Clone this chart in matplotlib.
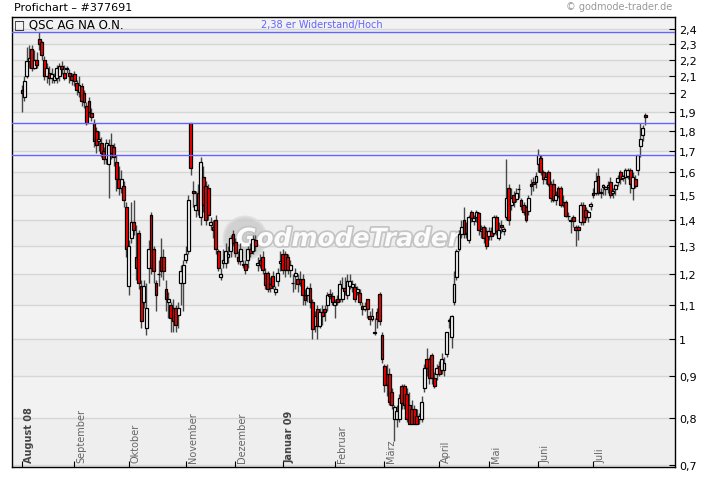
import numpy as np
import pandas as pd
import matplotlib
matplotlib.use('Agg')
import matplotlib.pyplot as plt
from matplotlib import patheffects
from matplotlib.patches import Ellipse
from matplotlib.ticker import NullLocator
from matplotlib.transforms import blended_transform_factory, offset_copy

# daily candles QSC AG, Aug 2008 - Jul 2009
opens = [
    2.02, 1.98, 2.10, 2.19, 2.27, 2.15, 2.20, 2.33, 2.31, 2.20,
    2.10, 2.12, 2.09, 2.08, 2.09, 2.10, 2.16, 2.12, 2.15, 2.12,
    2.10, 2.11, 2.06, 2.01, 2.04, 2.00, 1.93, 1.96, 1.89, 1.84,
    1.80, 1.75, 1.74, 1.70, 1.66, 1.64, 1.73, 1.72, 1.65, 1.57,
    1.53, 1.54, 1.45, 1.16, 1.33, 1.39, 1.26, 1.35, 1.16, 1.11,
    1.03, 1.22, 1.42, 1.29, 1.17, 1.20, 1.26, 1.26, 1.15, 1.11,
    1.10, 1.09, 1.09, 1.07, 1.17, 1.17, 1.25, 1.28, 1.84, 1.52,
    1.44, 1.51, 1.41, 1.58, 1.54, 1.53, 1.38, 1.37, 1.40, 1.28,
    1.19, 1.24, 1.24, 1.26, 1.28,
    1.345, 1.315, 1.26, 1.245, 1.23, 1.235, 1.25, 1.29, 1.28, 1.32,
    1.23, 1.25, 1.26, 1.205, 1.205, 1.168, 1.195, 1.14, 1.178, 1.238,
    1.27, 1.27, 1.26, 1.215, 1.17, 1.195, 1.185, 1.185, 1.185, 1.13,
    1.13, 1.155, 1.11, 1.037, 1.088, 1.037, 1.078, 1.088, 1.10, 1.135,
    1.128, 1.10, 1.12, 1.12, 1.12, 1.155, 1.13, 1.162, 1.157, 1.157,
    1.14, 1.137, 1.098, 1.088, 1.12, 1.067, 1.057, 1.016, 1.078, 1.135,
    1.01, 0.925, 0.905, 0.905, 0.86, 0.797, 0.797, 0.797, 0.875, 0.875,
    0.855, 0.83, 0.82, 0.82, 0.805, 0.797, 0.797, 0.87, 0.945, 0.945,
    0.955, 0.896, 0.905, 0.927, 0.915, 0.915, 0.958, 1.05,
    1.005, 1.11, 1.19, 1.289, 1.345, 1.40, 1.345, 1.32, 1.43, 1.395,
    1.41, 1.425, 1.355, 1.37, 1.355, 1.335, 1.355, 1.35, 1.41, 1.33,
    1.38, 1.355, 1.41, 1.53, 1.46, 1.50, 1.484, 1.525, 1.478, 1.46,
    1.45, 1.435, 1.55, 1.555, 1.557, 1.64, 1.665, 1.60, 1.57, 1.60,
    1.55, 1.55, 1.48, 1.53, 1.53, 1.47, 1.47, 1.414, 1.395, 1.41,
    1.37, 1.37, 1.39, 1.46, 1.44, 1.41, 1.455, 1.51, 1.51, 1.585,
    1.51, 1.535, 1.525, 1.535, 1.557, 1.51, 1.525, 1.557, 1.60, 1.575,
    1.58, 1.585, 1.61, 1.53, 1.57, 1.61, 1.725, 1.78, 1.88,
]
highs = [
    2.05, 2.10, 2.28, 2.29, 2.29, 2.26, 2.25, 2.38, 2.32, 2.22,
    2.18, 2.16, 2.15, 2.12, 2.17, 2.18, 2.19, 2.17, 2.16, 2.14,
    2.12, 2.13, 2.08, 2.10, 2.06, 2.02, 1.95, 1.98, 1.92, 1.86,
    1.82, 1.80, 1.77, 1.72, 1.76, 1.76, 1.79, 1.74, 1.68, 1.63,
    1.61, 1.56, 1.47, 1.32, 1.47, 1.48, 1.38, 1.36, 1.18, 1.18,
    1.17, 1.32, 1.43, 1.30, 1.18, 1.25, 1.33, 1.29, 1.18, 1.14,
    1.11, 1.12, 1.10, 1.11, 1.23, 1.25, 1.30, 1.50, 1.84, 1.56,
    1.52, 1.55, 1.67, 1.63, 1.56, 1.55, 1.41, 1.40, 1.42, 1.29,
    1.22, 1.29, 1.31, 1.30, 1.34,
    1.36, 1.33, 1.28, 1.31, 1.25, 1.25, 1.30, 1.31, 1.34, 1.34,
    1.26, 1.27, 1.28, 1.22, 1.21, 1.19, 1.21, 1.16, 1.22, 1.28,
    1.29, 1.28, 1.27, 1.25, 1.20, 1.22, 1.20, 1.21, 1.20, 1.15,
    1.16, 1.17, 1.12, 1.08, 1.10, 1.09, 1.10, 1.10, 1.14, 1.15,
    1.14, 1.12, 1.13, 1.18, 1.19, 1.19, 1.20, 1.20, 1.18, 1.17,
    1.16, 1.15, 1.11, 1.11, 1.12, 1.08, 1.09, 1.06, 1.09, 1.14,
    1.02, 0.93, 0.93, 0.92, 0.87, 0.83, 0.83, 0.855, 0.88, 0.88,
    0.87, 0.86, 0.84, 0.83, 0.82, 0.81, 0.85, 0.93, 0.975, 0.95,
    0.96, 0.91, 0.93, 0.94, 0.96, 0.95, 1.02, 1.06,
    1.07, 1.21, 1.29, 1.36, 1.40, 1.45, 1.39, 1.42, 1.44, 1.42,
    1.44, 1.43, 1.38, 1.38, 1.37, 1.37, 1.37, 1.42, 1.42, 1.39,
    1.40, 1.37, 1.66, 1.55, 1.53, 1.52, 1.53, 1.55, 1.49, 1.47,
    1.46, 1.50, 1.57, 1.58, 1.60, 1.71, 1.68, 1.61, 1.60, 1.61,
    1.56, 1.57, 1.52, 1.54, 1.54, 1.50, 1.48, 1.43, 1.41, 1.42,
    1.38, 1.38, 1.47, 1.47, 1.45, 1.44, 1.47, 1.53, 1.60, 1.62,
    1.53, 1.55, 1.54, 1.56, 1.58, 1.53, 1.55, 1.59, 1.61, 1.59,
    1.62, 1.62, 1.62, 1.60, 1.59, 1.68, 1.84, 1.83, 1.89,
]
lows = [
    1.90, 1.96, 2.09, 2.15, 2.13, 2.14, 2.15, 2.26, 2.20, 2.08,
    2.06, 2.05, 2.06, 2.06, 2.06, 2.07, 2.11, 2.08, 2.12, 2.06,
    2.05, 2.04, 1.99, 1.98, 1.93, 1.92, 1.83, 1.87, 1.85, 1.72,
    1.69, 1.70, 1.67, 1.64, 1.64, 1.49, 1.66, 1.63, 1.52, 1.50,
    1.51, 1.45, 1.26, 1.13, 1.31, 1.34, 1.18, 1.15, 1.03, 1.09,
    1.01, 1.17, 1.20, 1.17, 1.08, 1.16, 1.19, 1.18, 1.08, 1.06,
    1.02, 1.02, 1.02, 1.03, 1.10, 1.08, 1.24, 1.27, 1.59, 1.45,
    1.41, 1.42, 1.38, 1.43, 1.38, 1.40, 1.36, 1.33, 1.27, 1.21,
    1.18, 1.22, 1.22, 1.24, 1.26,
    1.30, 1.26, 1.235, 1.23, 1.22, 1.20, 1.22, 1.26, 1.27, 1.28,
    1.21, 1.22, 1.20, 1.15, 1.14, 1.14, 1.15, 1.13, 1.16, 1.21,
    1.20, 1.19, 1.20, 1.19, 1.14, 1.15, 1.14, 1.16, 1.10, 1.10,
    1.11, 1.09, 1.00, 1.02, 1.00, 1.03, 1.04, 1.05, 1.08, 1.12,
    1.10, 1.06, 1.10, 1.11, 1.11, 1.13, 1.12, 1.15, 1.14, 1.11,
    1.13, 1.10, 1.07, 1.08, 1.06, 1.04, 1.05, 1.01, 1.03, 1.04,
    0.935, 0.86, 0.85, 0.83, 0.82, 0.75, 0.78, 0.79, 0.82, 0.82,
    0.79, 0.785, 0.785, 0.785, 0.785, 0.786, 0.79, 0.86, 0.90, 0.88,
    0.88, 0.87, 0.89, 0.90, 0.905, 0.90, 0.95, 1.03,
    0.975, 1.10, 1.18, 1.28, 1.33, 1.33, 1.33, 1.31, 1.39, 1.38,
    1.39, 1.34, 1.33, 1.31, 1.29, 1.32, 1.32, 1.34, 1.34, 1.32,
    1.35, 1.34, 1.40, 1.38, 1.44, 1.45, 1.47, 1.49, 1.44, 1.42,
    1.39, 1.42, 1.50, 1.52, 1.53, 1.60, 1.59, 1.55, 1.55, 1.54,
    1.47, 1.47, 1.46, 1.49, 1.45, 1.45, 1.41, 1.40, 1.35, 1.37,
    1.30, 1.32, 1.38, 1.38, 1.40, 1.39, 1.44, 1.49, 1.50, 1.50,
    1.49, 1.50, 1.50, 1.51, 1.49, 1.49, 1.50, 1.54, 1.55, 1.56,
    1.55, 1.57, 1.51, 1.48, 1.53, 1.59, 1.67, 1.75, 1.83,
]
closes = [
    2.00, 2.07, 2.19, 2.21, 2.15, 2.20, 2.17, 2.30, 2.23, 2.10,
    2.15, 2.09, 2.11, 2.10, 2.15, 2.16, 2.14, 2.09, 2.14, 2.10,
    2.08, 2.07, 2.02, 2.05, 1.96, 1.95, 1.84, 1.90, 1.87, 1.75,
    1.73, 1.76, 1.69, 1.66, 1.74, 1.73, 1.69, 1.67, 1.57, 1.53,
    1.57, 1.48, 1.29, 1.30, 1.39, 1.36, 1.22, 1.17, 1.05, 1.16,
    1.09, 1.29, 1.22, 1.21, 1.13, 1.20, 1.21, 1.21, 1.12, 1.12,
    1.06, 1.05, 1.04, 1.09, 1.21, 1.23, 1.27, 1.48, 1.62, 1.51,
    1.46, 1.44, 1.65, 1.46, 1.40, 1.42, 1.39, 1.36, 1.29, 1.22,
    1.20, 1.25, 1.28, 1.27, 1.33,
    1.31, 1.275, 1.245, 1.29, 1.235, 1.215, 1.29, 1.275, 1.325, 1.30,
    1.24, 1.23, 1.215, 1.165, 1.15, 1.155, 1.16, 1.15, 1.205, 1.245,
    1.215, 1.215, 1.215, 1.23, 1.17, 1.205, 1.168, 1.17, 1.13, 1.115,
    1.155, 1.11, 1.027, 1.067, 1.037, 1.078, 1.067, 1.078, 1.13, 1.128,
    1.11, 1.11, 1.11, 1.168, 1.155, 1.145, 1.178, 1.178, 1.168, 1.12,
    1.15, 1.11, 1.088, 1.098, 1.088, 1.057, 1.067, 1.016, 1.057, 1.05,
    0.945, 0.878, 0.878, 0.837, 0.83, 0.825, 0.815, 0.845, 0.835, 0.83,
    0.797, 0.786, 0.786, 0.786, 0.786, 0.805, 0.837, 0.92, 0.92, 0.896,
    0.896, 0.875, 0.92, 0.905, 0.945, 0.935, 1.018, 1.055,
    1.065, 1.168, 1.28, 1.345, 1.37, 1.345, 1.35, 1.41, 1.405, 1.405,
    1.43, 1.36, 1.362, 1.33, 1.30, 1.355, 1.335, 1.41, 1.355, 1.36,
    1.37, 1.362, 1.487, 1.40, 1.487, 1.47, 1.51, 1.525, 1.455, 1.43,
    1.40, 1.49, 1.54, 1.55, 1.585, 1.68, 1.60, 1.57, 1.578, 1.55,
    1.487, 1.48, 1.50, 1.495, 1.46, 1.46, 1.416, 1.414, 1.40, 1.395,
    1.36, 1.36, 1.46, 1.39, 1.41, 1.43, 1.462, 1.50, 1.56, 1.51,
    1.51, 1.545, 1.535, 1.545, 1.50, 1.52, 1.545, 1.575, 1.57, 1.585,
    1.61, 1.61, 1.55, 1.58, 1.54, 1.68, 1.76, 1.815, 1.87,
]

levels = [2.38, 1.84, 1.68]
yticks = [0.7, 0.8, 0.9, 1.0, 1.1, 1.2, 1.3, 1.4, 1.5, 1.6, 1.7, 1.8, 1.9, 2.0, 2.1, 2.2, 2.3, 2.4]
month_names = ['August 08', 'September', 'Oktober', 'November', 'Dezember', 'Januar 09',
               'Februar', 'März', 'April', 'Mai', 'Juni', 'Juli']
holidays = ['2008-12-24', '2008-12-25', '2008-12-26', '2008-12-31', '2009-01-01',
            '2009-04-10', '2009-04-13', '2009-05-01']

days = pd.bdate_range('2008-08-01', '2009-07-30')
days = days[~days.isin(pd.to_datetime(holidays))]
n = min(len(days), len(opens))
days = days[:n]
o = np.array(opens[:n]); h = np.array(highs[:n]); l = np.array(lows[:n]); c = np.array(closes[:n])
x = np.arange(n)

months = days.to_period('M')
month_idx = [int(np.argmax(months == m)) for m in months.unique()]

fig = plt.figure(figsize=(7.2, 4.81), dpi=100)
ax = fig.add_axes([12/720, 1-468/481, 663/720, 450/481])
ax.set_yscale('log')
ax.set_ylim(0.696, 2.482)
ax.set_xlim(-4, 263)
ax.set_facecolor('#eeeeee')

# alternating bands + grid
for k in range(len(yticks) - 1):
    if k % 2 == 1:
        ax.axhspan(yticks[k], yticks[k+1], color='#f2f2f2', zorder=0, lw=0)
ax.axhspan(yticks[-1], 2.482, color='#f2f2f2', zorder=0, lw=0)
for v in yticks:
    ax.axhline(v, color='#d6d6d6', lw=1, zorder=0.5)

# watermark
ax.add_patch(Ellipse((245/720, 1-239/481), 42/720, 42/481, transform=fig.transFigure,
                     facecolor='#c8c8c8', edgecolor='#dadada', lw=2, alpha=0.75, zorder=1))
ax.text(348/720, 1-240/481, 'GodmodeTrader', transform=fig.transFigure, fontsize=18,
        fontweight='bold', style='italic', color='#fbfbfb', ha='center', va='center', zorder=2,
        path_effects=[patheffects.withStroke(linewidth=2.5, foreground='#c4c4c4')])

# candles
up = c >= o
ax.vlines(x, l, h, color='#484848', lw=1, zorder=3)
bottoms = np.minimum(o, c)
heights = np.maximum(np.abs(c - o), 0.002)
ax.bar(x, heights, bottom=bottoms, width=1.15, color=np.where(up, 'white', '#ff0000'),
       edgecolor='black', linewidth=0.9, zorder=4)

for v in levels:
    ax.axhline(v, color='#6464ff', lw=1, zorder=5)

# axes styling
ax.yaxis.tick_right()
ax.set_yticks(yticks)
ax.yaxis.set_minor_locator(NullLocator())
ax.set_yticklabels([f'{v:g}'.replace('.', ',') for v in yticks])
ax.tick_params(axis='y', direction='in', length=4, labelsize=8, pad=3, colors='black')
ax.set_xticks(month_idx)
ax.set_xticklabels([])
ax.tick_params(axis='x', direction='in', length=4)
for s in ax.spines.values():
    s.set_color('black')
    s.set_linewidth(1)

trans = offset_copy(blended_transform_factory(ax.transData, ax.transAxes), fig=fig, x=2, y=0, units='dots')
for idx, name in zip(month_idx, month_names):
    bold = name.endswith('08') or name.endswith('09')
    ax.text(idx, 0.011, name, rotation=90, ha='left', va='bottom', transform=trans,
            fontsize=7, color='#444444' if bold else '#666666',
            fontweight='bold' if bold else 'normal', zorder=6)

ax.text(2/663, 1-7/450, '\u25a1 QSC AG NA O.N.', transform=ax.transAxes, fontsize=8.5,
        ha='left', va='center', zorder=6)
ax.text(0.4676, 1-7/450, '2,38 er Widerstand/Hoch', transform=ax.transAxes, fontsize=7,
        color='#6464ff', ha='center', va='center', zorder=6)

fig.text(14/720, 1-8/481, 'Profichart \u2013 #377691', fontsize=8, ha='left', va='center')
fig.text(672/720, 1-7/481, '\u00a9 godmode-trader.de', fontsize=7, color='#999999',
         ha='right', va='center')

fig.savefig('out.png', dpi=100)
